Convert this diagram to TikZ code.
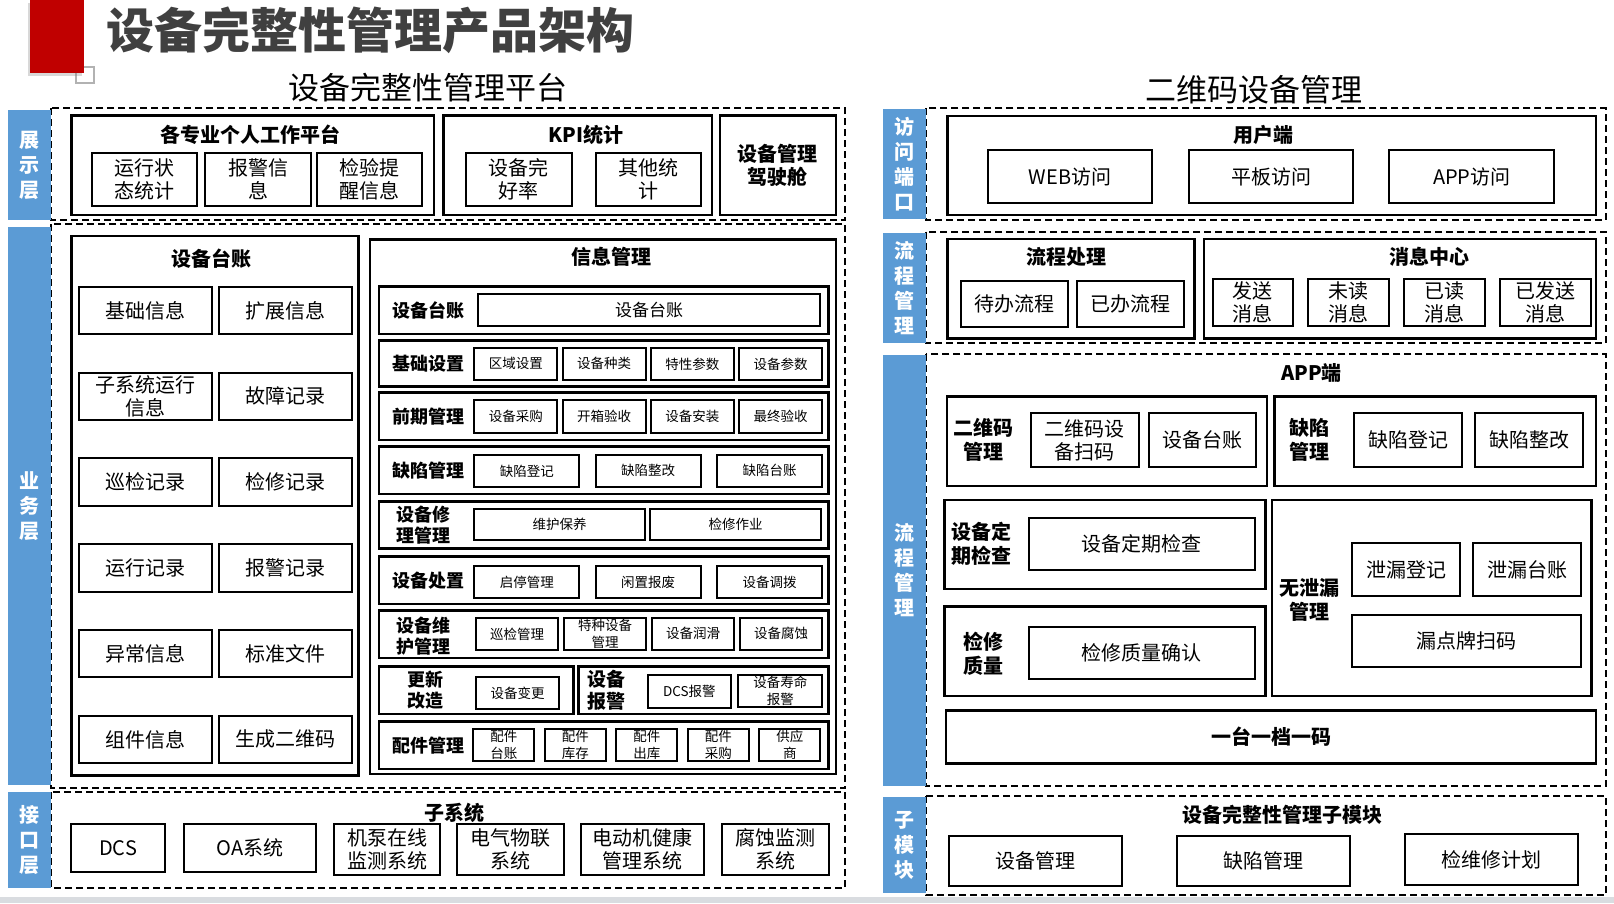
\documentclass[tikz,border=0pt]{standalone}
\usepackage{fontspec}
\setmainfont{Noto Sans CJK SC}
\usetikzlibrary{shadows}

\definecolor{barblue}{HTML}{5B9BD5}
\definecolor{titlegray}{HTML}{404040}
\definecolor{logored}{HTML}{C00000}
\definecolor{stripgray}{HTML}{D9DCE0}

\tikzset{
    cell/.style args={(#1,#2) (#3,#4)}{at={({((#1)+(#3))/2},{((#2)+(#4))/2})}, minimum width={(#3)-(#1)}, minimum height={(#4)-(#2)}},
    zone/.style={line width=2pt, dash pattern=on 7pt off 4pt},
    frame/.style={draw, line width=2.5pt, inner sep=0pt, align=center},
    box/.style={draw, line width=2pt, inner sep=0pt, align=center, font=\fontsize{20}{23}\selectfont},
    smallbox/.style={box, font=\fontsize{13.5}{17}\selectfont},
    bar/.style={fill=barblue, inner sep=0pt, text=white, align=center, font=\bfseries\fontsize{20}{25}\selectfont},
    head/.style={align=center, font=\bfseries\fontsize{20}{24}\selectfont},
    lbl/.style={align=center, font=\bfseries\fontsize{18}{21}\selectfont},
}

\begin{document}
\begin{tikzpicture}[x=1pt, y=-1pt]
    \useasboundingbox[fill=white] (0,0) rectangle (1614,903);
    \fill[stripgray] (0,897) rectangle (1614,903);

    \draw[gray!60, line width=2pt] (75.7,66.7) rectangle (94.2,83.3);
    \fill[logored, drop shadow={shadow xshift=-2pt, shadow yshift=-3pt, opacity=0.3}] (30.2,0) rectangle (83.6,73.3);
    \node[font=\bfseries\fontsize{48}{48}\selectfont, text=titlegray] (title) at (370.5,30) {设备完整性管理产品架构};
    \node[font=\fontsize{31}{31}\selectfont] (lefttitle) at (428,88) {设备完整性管理平台};
    \node[font=\fontsize{31}{31}\selectfont] (righttitle) at (1254,90) {二维码设备管理};

    \draw[zone] (51,108) rectangle (845,220);
    \draw[zone] (51,224) rectangle (845,788);
    \draw[zone] (51,792) rectangle (845,888);
    \draw[zone] (926,108.3) rectangle (1606,220);
    \draw[zone] (926,231.7) rectangle (1606,343.3);
    \draw[zone] (926,354.3) rectangle (1606,786);
    \draw[zone] (926,796) rectangle (1606,895);

    \node[bar, cell={(8,110) (51,220)}] (showbar) {展\\示\\层};
    \node[bar, cell={(8,226.5) (51,785)}] (bizbar) {业\\务\\层};
    \node[bar, cell={(8,792) (51,888)}] (ifbar) {接\\口\\层};
    \node[bar, cell={(883.4,109.3) (926.4,219.3)}] (accbar) {访\\问\\端\\口};
    \node[bar, cell={(883.4,232.6) (926.4,342.7)}] (procbar) {流\\程\\管\\理};
    \node[bar, cell={(883.4,355) (926.4,786)}] (appbar) {流\\程\\管\\理};
    \node[bar, cell={(883.4,797.3) (926.4,893.3)}] (modbar) {子\\模\\块};

    \node[frame, cell={(71.5,115.7) (434,215)}] (work) {};
    \node[head] (worktitle) at (250,135) {各专业个人工作平台};
    \node[box, cell={(91.6,152.7) (197,206)}] (work1) {运行状\\态统计};
    \node[box, cell={(205.4,152.7) (310.7,206)}] (work2) {报警信\\息};
    \node[box, cell={(316.6,152.7) (422,206)}] (work3) {检验提\\醒信息};
    \node[frame, cell={(443.6,115.7) (712,215)}] (kpi) {};
    \node[head] (kpititle) at (586,135) {KPI统计};
    \node[box, cell={(465.9,152.7) (571.7,206)}] (kpi1) {设备完\\好率};
    \node[box, cell={(595.6,152.7) (701.4,206)}] (kpi2) {其他统\\计};
    \node[frame, font=\bfseries\fontsize{20}{23.5}\selectfont, cell={(720,115.7) (835.8,215)}] (cockpit) {设备管理\\驾驶舱};

    \node[frame, cell={(71.7,236) (358.3,775.4)}] (ledger) {};
    \node[head] (ledgertitle) at (211.7,258.6) {设备台账};
    \foreach \a/\b [count=\i] in {基础信息/扩展信息, 子系统运行\\信息/故障记录, 巡检记录/检修记录, 运行记录/报警记录, 异常信息/标准文件, 组件信息/生成二维码} {
        \pgfmathsetmacro\ya{286.8+85.8*(\i-1)}
        \node[box, cell={(79.3,\ya) (212.3,\ya+47.3)}] (ledgerL\i) {\a};
        \node[box, cell={(219.3,\ya) (352.3,\ya+47.3)}] (ledgerR\i) {\b};
    }

    \node[frame, cell={(370,239.3) (836,774)}] (info) {};
    \node[head] (infotitle) at (611,257) {信息管理};

    \node[frame, cell={(379,286.7) (828.3,334)}] (rowledger) {};
    \node[lbl] (rowledgerlbl) at (428,310.3) {设备台账};
    \node[box, font=\fontsize{17}{20}\selectfont, cell={(477.7,294) (820.3,326)}] (infoledger) {设备台账};

    \node[frame, cell={(379,340.7) (828.3,386.7)}] (rowbase) {};
    \node[lbl] (rowbaselbl) at (428,363.7) {基础设置};
    \foreach \t [count=\i] in {区域设置,设备种类,特性参数,设备参数}
        \node[smallbox, cell={(474.3+88.3*(\i-1),347.7) (557.3+88.3*(\i-1),380)}] (base\i) {\t};

    \node[frame, cell={(379,392.7) (828.3,440)}] (rowearly) {};
    \node[lbl] (rowearlylbl) at (428,416.3) {前期管理};
    \foreach \t [count=\i] in {设备采购,开箱验收,设备安装,最终验收}
        \node[smallbox, cell={(474.3+88.3*(\i-1),400) (557.3+88.3*(\i-1),432.7)}] (early\i) {\t};

    \node[frame, cell={(379,446.7) (828.3,494)}] (rowdefect) {};
    \node[lbl] (rowdefectlbl) at (428,470.3) {缺陷管理};
    \foreach \t [count=\i] in {缺陷登记,缺陷整改,缺陷台账}
        \node[smallbox, cell={(474.3+121.4*(\i-1),455) (579.3+121.4*(\i-1),486.7)}] (defect\i) {\t};

    \node[frame, cell={(379,501.7) (828.3,548.3)}] (rowrepair) {};
    \node[lbl] (rowrepairlbl) at (423,525) {设备修\\理管理};
    \node[smallbox, cell={(474.3,509.3) (645,540)}] (repair1) {维护保养};
    \node[smallbox, cell={(650.3,509.3) (821,540)}] (repair2) {检修作业};

    \node[frame, cell={(379,556.7) (828.3,604)}] (rowdispose) {};
    \node[lbl] (rowdisposelbl) at (428,580.3) {设备处置};
    \foreach \t [count=\i] in {启停管理,闲置报废,设备调拨}
        \node[smallbox, cell={(474.3+121.4*(\i-1),565.7) (579.3+121.4*(\i-1),598.3)}] (dispose\i) {\t};

    \node[frame, cell={(379,610.7) (828.3,658)}] (rowkeep) {};
    \node[lbl] (rowkeeplbl) at (423,636) {设备维\\护管理};
    \foreach \t [count=\i] in {巡检管理,特种设备\\管理,设备润滑,设备腐蚀}
        \node[smallbox, cell={(475.7+88*(\i-1),617.7) (558.3+88*(\i-1),650)}] (keep\i) {\t};

    \node[frame, cell={(379,666.7) (573.3,714)}] (rowrenew) {};
    \node[lbl] (rowrenewlbl) at (425,690.3) {更新\\改造};
    \node[smallbox, cell={(475.7,676.7) (559.3,709.3)}] (renew1) {设备变更};
    \node[frame, cell={(578.3,666.7) (828.3,714)}] (rowalarm) {};
    \node[lbl, font=\bfseries\fontsize{19}{22}\selectfont] (rowalarmlbl) at (606,690.3) {设备\\报警};
    \node[smallbox, cell={(647.7,674.7) (731,708)}] (alarm1) {DCS报警};
    \node[smallbox, cell={(738.3,674.7) (822.3,706.7)}] (alarm2) {设备寿命\\报警};

    \node[frame, cell={(379,721.7) (828.3,769)}] (rowparts) {};
    \node[lbl] (rowpartslbl) at (428,745.3) {配件管理};
    \foreach \t [count=\i] in {配件\\台账,配件\\库存,配件\\出库,配件\\采购,供应\\商}
        \node[smallbox, cell={(473.3+71.5*(\i-1),729) (534.3+71.5*(\i-1),761)}] (parts\i) {\t};

    \node[head] (subsystitle) at (454,813.3) {子系统};
    \node[box, cell={(71.2,824.3) (165,871.7)}] (dcs) {DCS};
    \node[box, cell={(183.7,824.3) (316,871.7)}] (oa) {OA系统};
    \node[box, cell={(333.7,824.3) (440.3,875)}] (pump) {机泵在线\\监测系统};
    \node[box, cell={(456.9,824.3) (564,875)}] (iot) {电气物联\\系统};
    \node[box, cell={(581,824.3) (704.3,875)}] (motor) {电动机健康\\管理系统};
    \node[box, cell={(721.5,824.3) (829,875)}] (corrode) {腐蚀监测\\系统};

    \node[frame, cell={(947.6,116) (1596,215)}] (user) {};
    \node[head] (usertitle) at (1263.5,135) {用户端};
    \node[box, cell={(988,150) (1152,203.3)}] (web) {WEB访问};
    \node[box, cell={(1189,150) (1353.3,203.3)}] (pad) {平板访问};
    \node[box, cell={(1389.4,150) (1554.2,203.3)}] (appvisit) {APP访问};

    \node[frame, cell={(947.6,239) (1194.4,338.3)}] (flow) {};
    \node[head] (flowtitle) at (1066,256.7) {流程处理};
    \node[box, cell={(961,281) (1068,326.7)}] (todo) {待办流程};
    \node[box, cell={(1077,281) (1184,326.7)}] (done) {已办流程};
    \node[frame, cell={(1203.8,239) (1596,338.3)}] (msg) {};
    \node[head] (msgtitle) at (1429.8,256.7) {消息中心};
    \node[box, cell={(1212.7,279.3) (1293,326)}] (msg1) {发送\\消息};
    \node[box, cell={(1308,279.3) (1388.9,326)}] (msg2) {未读\\消息};
    \node[box, cell={(1404,279.3) (1485,326)}] (msg3) {已读\\消息};
    \node[box, cell={(1500,279.3) (1591.2,326)}] (msg4) {已发送\\消息};

    \node[head] (apptitle) at (1311.4,373.3) {APP端};
    \node[frame, cell={(947,396.7) (1267,486)}] (qr) {};
    \node[head] (qrlbl) at (983,440) {二维码\\管理};
    \node[box, cell={(1031,413.3) (1138.6,466.7)}] (qr1) {二维码设\\备扫码};
    \node[box, cell={(1148.5,413.3) (1256,466.7)}] (qr2) {设备台账};
    \node[frame, cell={(1274.4,396.7) (1596,486)}] (appdefect) {};
    \node[head] (appdefectlbl) at (1309,440) {缺陷\\管理};
    \node[box, cell={(1354,413.3) (1462,466.7)}] (appdefect1) {缺陷登记};
    \node[box, cell={(1475,413.3) (1583,466.7)}] (appdefect2) {缺陷整改};

    \node[frame, cell={(944.6,500) (1265.5,589)}] (check) {};
    \node[head] (checklbl) at (981.7,544) {设备定\\期检查};
    \node[box, cell={(1029,517.7) (1254.6,570)}] (check1) {设备定期检查};
    \node[frame, cell={(944.6,606.7) (1265.5,696)}] (quality) {};
    \node[head] (qualitylbl) at (983,654) {检修\\质量};
    \node[box, cell={(1029,626.7) (1254.6,679)}] (quality1) {检修质量确认};
    \node[frame, cell={(1272,500) (1591.7,696)}] (leak) {};
    \node[head] (leaklbl) at (1309,600) {无泄漏\\管理};
    \node[box, cell={(1352,543.3) (1460.4,596)}] (leak1) {泄漏登记};
    \node[box, cell={(1473,543.3) (1581.4,596)}] (leak2) {泄漏台账};
    \node[box, cell={(1352,615) (1581.4,667.3)}] (leak3) {漏点牌扫码};
    \node[frame, head, cell={(946,710.7) (1596,763.3)}] (onecode) {一台一档一码};

    \node[head] (modtitle) at (1282.7,815) {设备完整性管理子模块};
    \node[box, cell={(948.6,835.7) (1122.3,886)}] (mod1) {设备管理};
    \node[box, cell={(1177,835.7) (1350,886)}] (mod2) {缺陷管理};
    \node[box, cell={(1405,834.3) (1578,885)}] (mod3) {检维修计划};
\end{tikzpicture}
\end{document}
